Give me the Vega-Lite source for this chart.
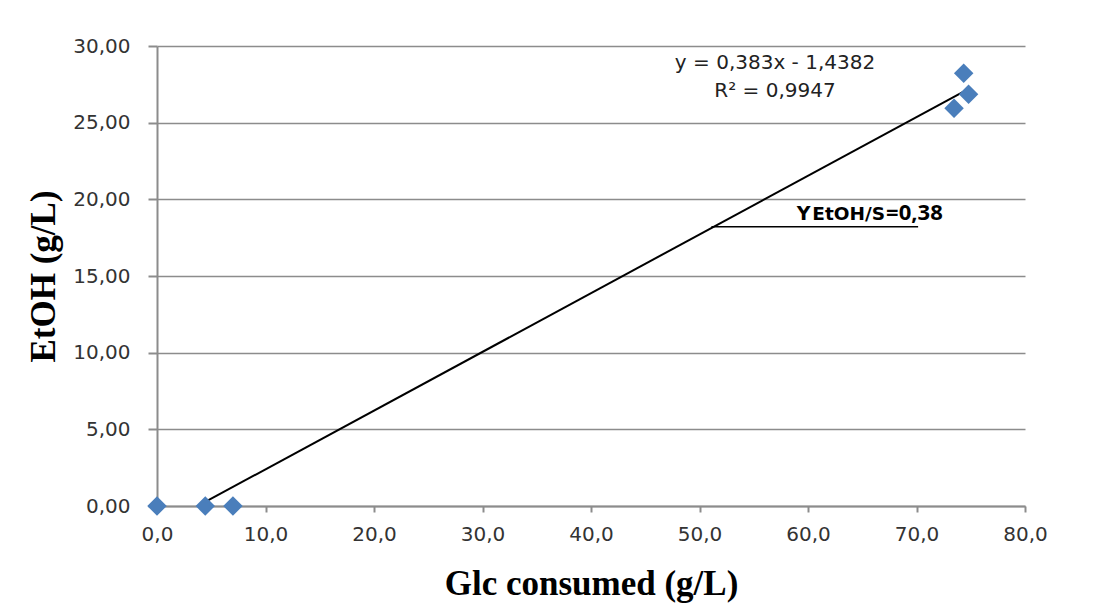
{
  "$schema": "https://vega.github.io/schema/vega-lite/v6.json",
  "width": 868,
  "height": 460,
  "autosize": {"type": "none"},
  "padding": {"left": 157, "top": 46, "right": 68, "bottom": 104},
  "background": "white",
  "config": {
    "locale": {"number": {"decimal": ",", "thousands": ".", "grouping": [3], "currency": ["", " €"]}},
    "view": {"stroke": null},
    "axis": {
      "labelFont": "DejaVu Sans",
      "labelFontSize": 20,
      "labelColor": "#333333",
      "labelFlush": false,
      "labelOverlap": false,
      "titleFont": "Liberation Serif",
      "titleFontWeight": "bold",
      "titleFontSize": 35,
      "titleColor": "#000000",
      "domainColor": "#8c8c8c",
      "domainWidth": 2,
      "tickColor": "#8c8c8c",
      "tickWidth": 2,
      "gridColor": "#8c8c8c",
      "gridWidth": 1.5
    }
  },
  "datasets": {
    "pts": [
      {"x": 0.0, "y": 0.0},
      {"x": 4.45, "y": 0.0},
      {"x": 7.0, "y": 0.0},
      {"x": 73.46, "y": 25.94},
      {"x": 74.35, "y": 28.22},
      {"x": 74.8, "y": 26.86}
    ],
    "trend": [
      {"x": 4.4, "y": 0.247},
      {"x": 74.6, "y": 27.13}
    ],
    "mark": [
      {"x": 51.1, "x2": 70.15, "y": 18.22}
    ],
    "eq": [
      {"x": 56.96, "y": 28.9, "label": "y = 0,383x - 1,4382"},
      {"x": 56.96, "y": 27.05, "label": "R² = 0,9947"}
    ],
    "yl": [{"x": 58.96, "y": 18.66, "label": "Y"}],
    "ysub": [{"x": 60.4, "y": 18.66, "label": "EtOH/S"}],
    "yval": [{"x": 67.2, "y": 18.66, "label": "=0,38"}]
  },
  "encoding": {
    "x": {
      "field": "x",
      "type": "quantitative",
      "scale": {"domain": [0, 80], "nice": false, "zero": false},
      "axis": {
        "title": "Glc consumed (g/L)",
        "format": ".1f",
        "values": [0, 10, 20, 30, 40, 50, 60, 70, 80],
        "grid": false,
        "tickSize": 6,
        "labelPadding": 12,
        "titlePadding": 22
      }
    },
    "y": {
      "field": "y",
      "type": "quantitative",
      "scale": {"domain": [0, 30], "nice": false, "zero": false},
      "axis": {
        "title": "EtOH (g/L)",
        "format": ".2f",
        "values": [0, 5, 10, 15, 20, 25, 30],
        "grid": true,
        "tickSize": 9,
        "labelPadding": 18,
        "titlePadding": 11
      }
    }
  },
  "layer": [
    {
      "data": {"name": "trend"},
      "mark": {"type": "line", "color": "#000000", "strokeWidth": 2}
    },
    {
      "data": {"name": "mark"},
      "mark": {"type": "rule", "color": "#000000", "strokeWidth": 1.5},
      "encoding": {"x2": {"field": "x2"}}
    },
    {
      "data": {"name": "pts"},
      "mark": {"type": "point", "shape": "diamond", "filled": true, "size": 380, "color": "#4A7EBB", "opacity": 1}
    },
    {
      "data": {"name": "eq"},
      "mark": {"type": "text", "font": "DejaVu Sans", "fontSize": 20, "color": "#222222", "align": "center", "baseline": "middle"},
      "encoding": {"text": {"field": "label"}}
    },
    {
      "data": {"name": "yl"},
      "mark": {"type": "text", "font": "DejaVu Sans", "fontWeight": "bold", "fontSize": 19, "color": "#000000", "align": "left", "baseline": "alphabetic"},
      "encoding": {"text": {"field": "label"}}
    },
    {
      "data": {"name": "ysub"},
      "mark": {"type": "text", "font": "DejaVu Sans", "fontWeight": "bold", "fontSize": 18.5, "color": "#000000", "align": "left", "baseline": "alphabetic"},
      "encoding": {"text": {"field": "label"}}
    },
    {
      "data": {"name": "yval"},
      "mark": {"type": "text", "font": "Open Sans", "fontWeight": "bold", "fontSize": 22, "color": "#000000", "align": "left", "baseline": "alphabetic"},
      "encoding": {"text": {"field": "label"}}
    }
  ]
}
